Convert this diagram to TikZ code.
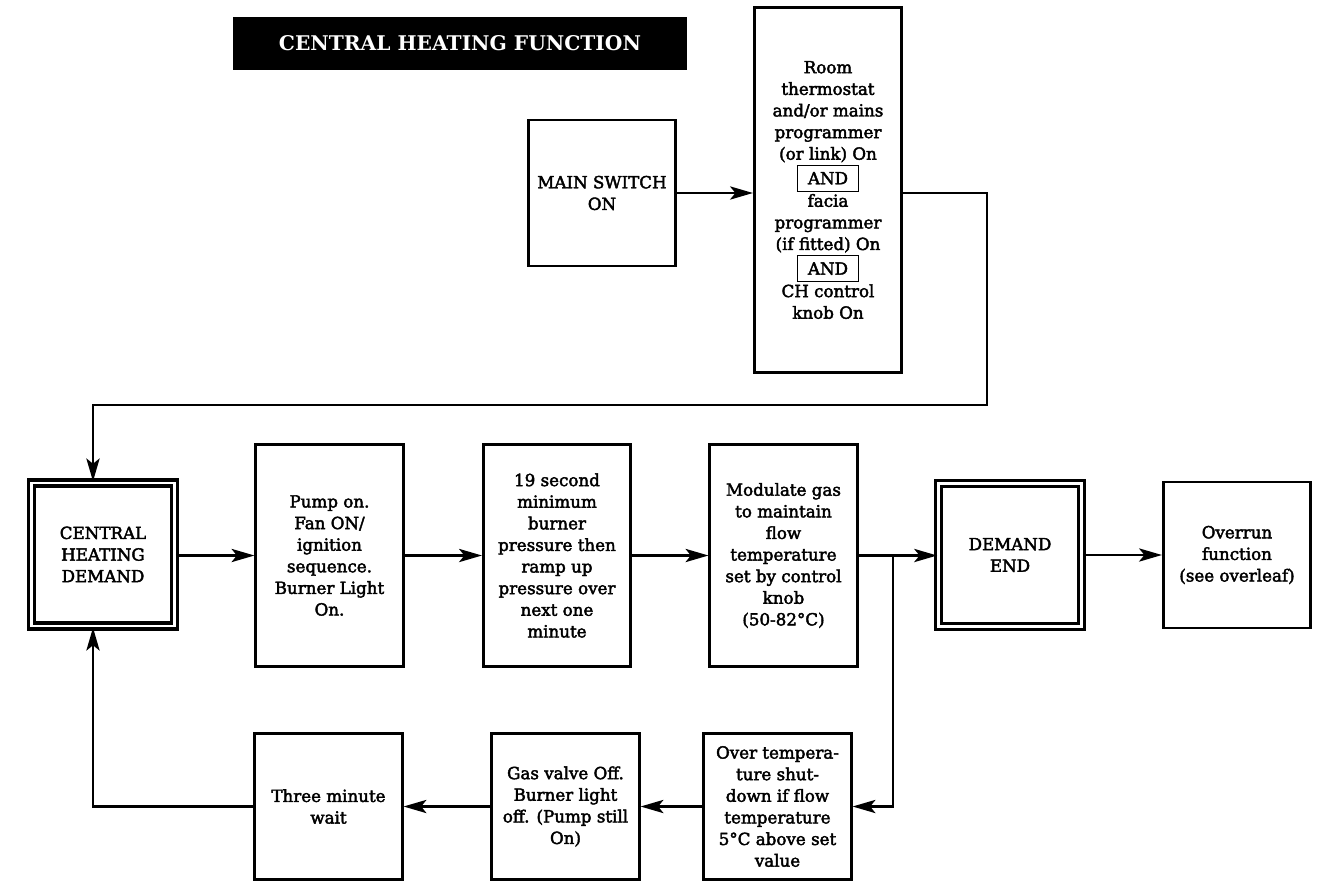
\documentclass[tikz,border=0pt]{standalone}
\usepackage{fontspec}
\setmainfont{DejaVu Serif}
\newfontfamily\boxfont{DejaVu Serif}[FakeBold=2.5]
\usepackage{tikz}
\usetikzlibrary{positioning,shapes,arrows.meta,calc}
\setlength{\fboxrule}{0.6pt}
\setlength{\fboxsep}{3.5pt}
\newcommand{\andbox}{\framebox[1.25cm]{AND}}

\begin{document}
\begin{tikzpicture}[x=0.02cm, y=-0.02cm,
    stepbox/.style={draw, line width=1.5pt, align=center, inner sep=2pt,
        minimum width=2.95cm, minimum height=2.92cm,
        font=\boxfont\fontsize{9.5}{12.3}\selectfont},
    tallbox/.style={stepbox, minimum height=4.45cm},
    dblbox/.style={stepbox, double, line width=1.9pt, double distance=1.5pt,
        minimum width=2.85cm, minimum height=2.86cm},
    arr/.style={line width=1.5pt, -{Stealth[length=13pt, width=7.5pt, inset=3pt]}}]
    \useasboundingbox (0,0) rectangle (1332,883);

    % Title bar
    \node[fill=black, text=white, minimum width=9.08cm, minimum height=1.06cm,
        font=\fontsize{11.5}{13}\selectfont\bfseries] (title) at (460,43.5)
        {CENTRAL HEATING FUNCTION};

    % Top row - switch and controls
    \node[stepbox] (mainsw) at (602,193) {MAIN SWITCH\\ON};
    \node[stepbox, minimum height=7.3cm] (room) at (828,190)
        {Room\\thermostat\\and/or mains\\programmer\\(or link) On\\[0.5pt]\andbox\\[0.5pt]facia\\programmer\\(if fitted) On\\[0.5pt]\andbox\\[0.5pt]CH control\\knob On};

    % Middle row - demand sequence
    \node[dblbox] (chdemand) at (103,554.5) {CENTRAL\\HEATING\\DEMAND};
    \node[tallbox] (pump) at (329.5,555.5)
        {Pump on.\\Fan ON/\\ignition\\sequence.\\Burner Light\\On.};
    \node[tallbox] (ramp) at (557,555.5)
        {19 second\\minimum\\burner\\pressure then\\ramp up\\pressure over\\next one\\minute};
    \node[tallbox] (modulate) at (783.5,555.5)
        {Modulate gas\\to maintain\\flow\\temperature\\set by control\\knob\\(50-82°C)};
    \node[dblbox] (dmdend) at (1010,555) {DEMAND\\END};
    \node[stepbox] (overrun) at (1237,555) {Overrun\\function\\(see overleaf)};

    % Bottom row - over temperature
    \node[stepbox] (overtemp) at (777.5,806.5)
        {Over tempera-\\ture shut-\\down if flow\\temperature\\5°C above set\\value};
    \node[stepbox] (gasoff) at (565.5,806.5)
        {Gas valve Off.\\Burner light\\off. (Pump still\\On)};
    \node[stepbox] (wait) at (328.5,806.5) {Three minute\\wait};

    % Loop points
    \coordinate (loopR) at (987,405);
    \coordinate (loopL) at (93,405);
    \coordinate (split) at (893,555);

    % Connectors
    \draw[arr] (mainsw.east) -- (mainsw.east -| room.west);
    \draw[arr] (room.east |- mainsw.east) -| (loopR) -- (loopL) -- (loopL |- chdemand.north);
    \draw[arr] (chdemand.east |- pump.west) -- (pump.west);
    \draw[arr] (pump.east) -- (ramp.west);
    \draw[arr] (ramp.east) -- (modulate.west);
    \draw[arr] (modulate.east) -- (modulate.east -| dmdend.west);
    \draw[arr] (dmdend.east |- overrun.west) -- (overrun.west);
    \draw[arr] (split) |- (overtemp.east);
    \draw[arr] (overtemp.west) -- (gasoff.east);
    \draw[arr] (gasoff.west) -- (wait.east);
    \draw[arr] (wait.west) -| (loopL |- chdemand.south);
\end{tikzpicture}
\end{document}
